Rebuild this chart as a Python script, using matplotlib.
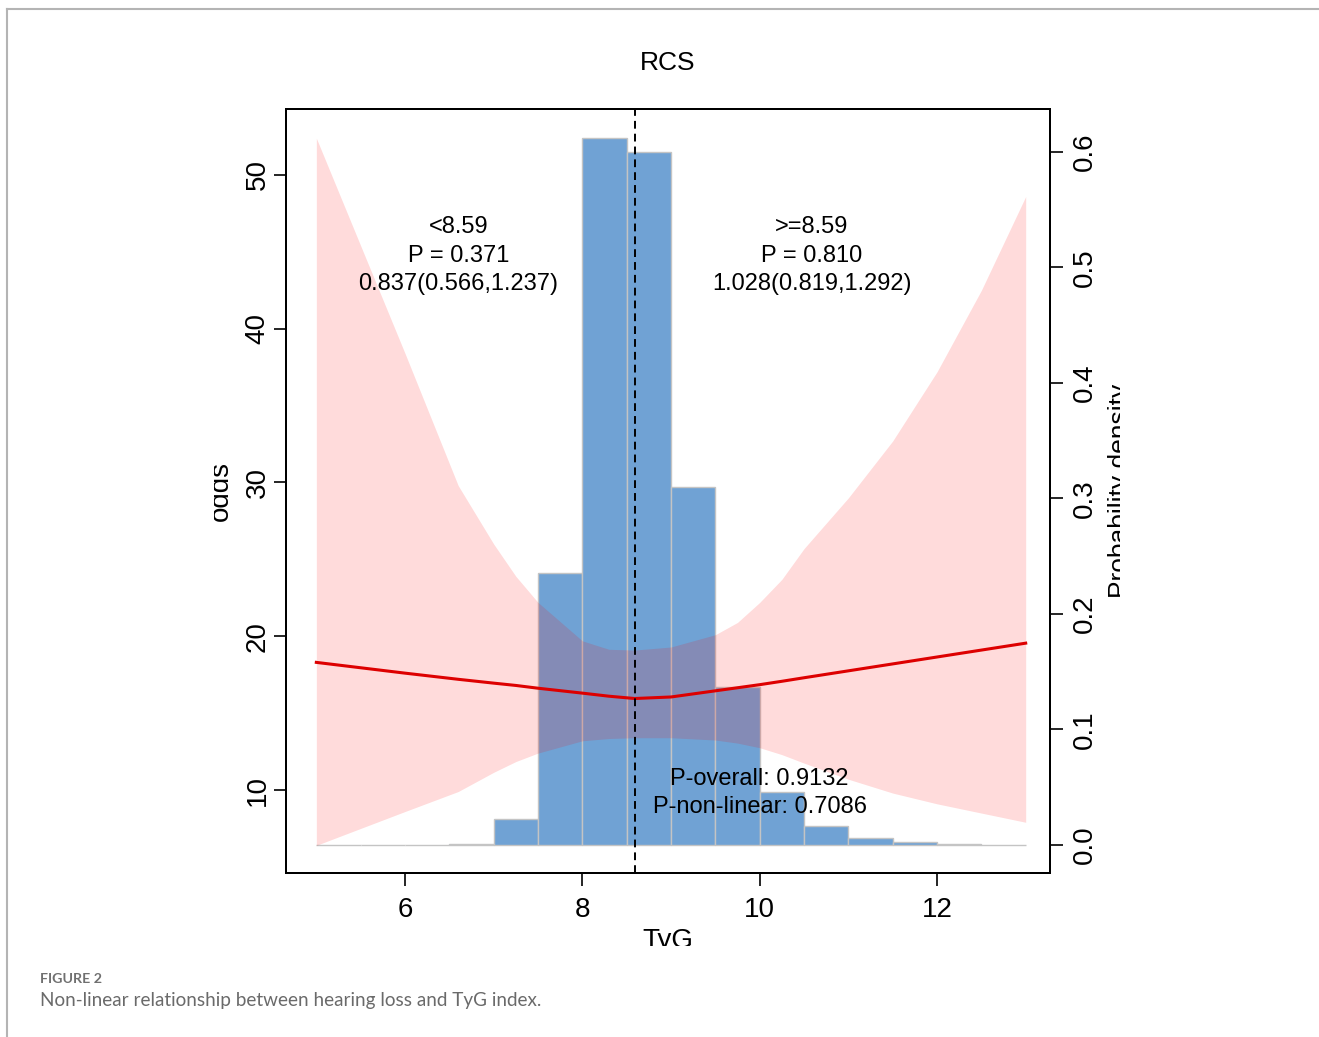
import matplotlib.pyplot as plt
from matplotlib.lines import Line2D
from matplotlib.transforms import Bbox, TransformedBbox

# restricted cubic spline fit
tyg_grid = [5.0, 5.5, 6.0, 6.6, 7.0, 7.25, 7.5, 8.0, 8.3, 8.59, 9.0, 9.5, 9.75, 10.0, 10.25,
            10.5, 11.0, 11.5, 12.0, 12.5, 13.0]
odds_fit = [18.3, 17.95, 17.6, 17.2, 16.95, 16.8, 16.62, 16.3, 16.1, 15.95, 16.05, 16.45, 16.65,
            16.85, 17.07, 17.3, 17.75, 18.2, 18.65, 19.1, 19.55]
odds_upper = [52.4, 45.4, 38.4, 29.8, 26.0, 23.9, 22.2, 19.7, 19.15, 19.1, 19.3, 20.1, 20.9,
              22.2, 23.7, 25.7, 29.0, 32.7, 37.2, 42.5, 48.6]
odds_lower = [6.4, 7.5, 8.6, 9.9, 11.15, 11.85, 12.4, 13.2, 13.35, 13.4, 13.4, 13.25, 13.05,
              12.75, 12.3, 11.75, 10.7, 9.8, 9.1, 8.5, 7.9]

# histogram of TyG (density)
bin_left = [5.0, 5.5, 6.0, 6.5, 7.0, 7.5, 8.0, 8.5, 9.0, 9.5, 10.0, 10.5, 11.0, 11.5, 12.0, 12.5]
bin_density = [0.0, 0.0, 0.0, 0.001, 0.0222, 0.2352, 0.6124, 0.6003, 0.3102, 0.1365,
               0.0456, 0.01645, 0.0058, 0.0023, 0.0009, 0.0]
bin_width = 0.5

cutoff = 8.59
x_ticks = [6, 8, 10, 12]
odds_ticks = [10, 20, 30, 40, 50]
dens_ticks = [0.0, 0.1, 0.2, 0.3, 0.4, 0.5, 0.6]

W, H = 1319, 1037
fig = plt.figure(figsize=(W / 100, H / 100), dpi=100)
plt.rcParams['font.family'] = ['Liberation Sans', 'DejaVu Sans']

rect = [286 / W, 1 - 873 / H, (1050 - 286) / W, (873 - 109) / H]
ax_h = fig.add_axes(rect)
ax = ax_h.twinx()

# histogram underneath
ax_h.bar(bin_left, bin_density, width=bin_width, align='edge',
         color='#70a2d4', edgecolor='#c4c4c4', linewidth=1.0)
ax_h.set_ylim(-0.02424, 0.6372)
ax_h.set_xlim(4.658, 13.274)

# spline with CI on top
ax.fill_between(tyg_grid, odds_lower, odds_upper, color='red', alpha=0.14, linewidth=0)
ax.plot(tyg_grid, odds_fit, color='#dd0000', lw=2.2)
ax.axvline(cutoff, color='black', lw=1.4, linestyle=(0, (4, 2.6)))
ax.set_ylim(4.602, 54.29)
ax.set_xlim(4.658, 13.274)

ann = dict(ha='center', va='center', fontsize=17)
ax.text(6.6, 46.6, '<8.59', **ann)
ax.text(6.6, 44.7, 'P = 0.371', **ann)
ax.text(6.6, 42.9, '0.837(0.566,1.237)', **ann)
ax.text(10.59, 46.6, '>=8.59', **ann)
ax.text(10.59, 44.7, 'P = 0.810', **ann)
ax.text(10.59, 42.9, '1.028(0.819,1.292)', **ann)
ax.text(10.0, 10.72, 'P-overall: 0.9132', **ann)
ax.text(10.0, 8.87, 'P-non-linear: 0.7086', **ann)

# axes, R-like
for a in (ax, ax_h):
    for s in a.spines.values():
        s.set_linewidth(1.4)
ax.yaxis.tick_left()
ax_h.yaxis.tick_right()
ax.set_yticks(odds_ticks)
ax.set_yticklabels([str(v) for v in odds_ticks])
ax_h.set_yticks(dens_ticks)
ax_h.set_yticklabels(['%.1f' % v for v in dens_ticks])
ax_h.set_xticks(x_ticks)
ax_h.set_xticklabels([str(v) for v in x_ticks])
ax.tick_params(axis='y', length=9, width=1.2, labelsize=20, pad=2)
ax_h.tick_params(axis='both', length=9, width=1.2, labelsize=20)
ax_h.tick_params(axis='x', pad=8)
ax_h.tick_params(axis='y', pad=7)
for lbl in ax.get_yticklabels() + ax_h.get_yticklabels():
    lbl.set_rotation(90)
    lbl.set_va('center')

fig.text(668 / W, 1 - 63 / H, 'RCS', ha='center', va='center', fontsize=19)


def clipped(x, y, s, keep, **kw):
    t = fig.text(x / W, 1 - y / H, s, rotation_mode='anchor', **kw)
    x0, y0, x1, y1 = keep
    box = Bbox.from_extents(x0 / W, 1 - y1 / H, x1 / W, 1 - y0 / H)
    t.set_clip_box(TransformedBbox(box, fig.transFigure))
    t.set_clip_on(True)
    return t


clipped(668, 948, 'TyG', (0, 0, W, 946), ha='center', va='baseline', fontsize=20)
clipped(228, 491, 'odds', (214, 0, W, H), ha='center', va='baseline', fontsize=20, rotation=90)
clipped(1127, 491, 'Probability density', (0, 0, 1120, H), ha='center', va='baseline',
        fontsize=19, rotation=90)

# page frame and caption
fig.add_artist(Line2D([7 / W, 1], [1 - 9 / H, 1 - 9 / H], color='#b4b4b4', lw=1.5))
fig.add_artist(Line2D([7 / W, 7 / W], [0, 1 - 9 / H], color='#b4b4b4', lw=1.5))
fig.text(40 / W, 1 - 983 / H, 'FIGURE 2', fontsize=10.3, color='#707070',
         family=['Lato', 'DejaVu Sans'], fontweight='bold', va='baseline')
fig.text(40 / W, 1 - 1006 / H, 'Non-linear relationship between hearing loss and TyG index.',
         fontsize=13.6, color='#6a6a6a', family=['Lato', 'DejaVu Sans'], va='baseline')

fig.savefig('out.png', dpi=100)
